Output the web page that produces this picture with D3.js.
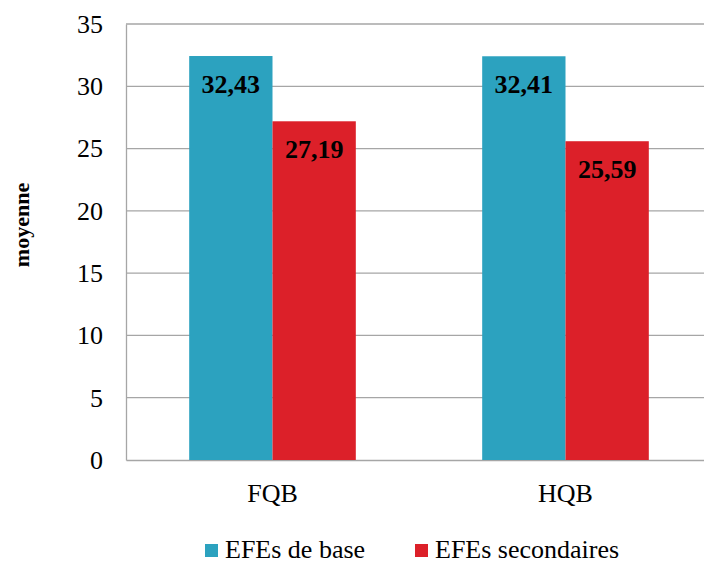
<!DOCTYPE html>
<html><head><meta charset="utf-8">
<script src="https://cdn.jsdelivr.net/npm/d3@7"></script>
<style>
body{margin:0;background:#fff;}
svg{display:block;}
svg text{font-family:"Liberation Serif","Times New Roman",Tinos,serif;}
</style>
</head><body>
<script>
const categories = ["FQB", "HQB"];
const seriesNames = ["EFEs de base", "EFEs secondaires"];
const seriesBase = [32.43, 32.41];
const seriesSecondaires = [27.19, 25.59];
const yTicks = [0, 5, 10, 15, 20, 25, 30, 35];
const colors = ["#2ca2bf", "#dc2029"];

const W = 704, H = 563;
const svg = d3.select("body").append("svg").attr("width", W).attr("height", H)
  .style("font-family", "Liberation Serif");

const x = d3.scaleBand().domain(categories).range([126, 712]);
const y = d3.scaleLinear().domain([0, 35]).range([460, 24]);
const barW = x.bandwidth() / 3.517;

// gridlines
svg.append("g").selectAll("line").data(yTicks.filter(t => t > 0)).join("line")
  .attr("x1", 126).attr("x2", 712)
  .attr("y1", d => y(d)).attr("y2", d => y(d))
  .attr("stroke", "#a6a6a6").attr("stroke-width", 1.3);

// y axis
const ya = svg.append("g").attr("transform", "translate(126,0)")
  .call(d3.axisLeft(y).tickValues(yTicks).tickSize(0).tickPadding(23));
ya.attr("font-family", null).attr("font-size", null);
ya.select(".domain").attr("stroke", "#a6a6a6").attr("stroke-width", 1.3);
ya.selectAll("text").attr("font-size", 26).attr("fill", "#000");

// x axis
const xa = svg.append("g").attr("transform", "translate(0,460)")
  .call(d3.axisBottom(x).tickSize(0).tickPadding(23.5));
xa.attr("font-family", null).attr("font-size", null);
xa.select(".domain").attr("stroke", "#a6a6a6").attr("stroke-width", 1.3);
xa.selectAll("text").attr("font-size", 26).attr("fill", "#000");

const series = [seriesBase, seriesSecondaires];
series.forEach((vals, si) => {
  const g = svg.append("g");
  const data = categories.map((c, i) => ({c, v: vals[i]}));
  g.selectAll("rect").data(data).join("rect")
    .attr("x", d => x(d.c) + x.bandwidth() / 2 - barW + si * barW)
    .attr("width", barW)
    .attr("y", d => y(d.v))
    .attr("height", d => y(0) - y(d.v))
    .attr("fill", colors[si]);
  g.selectAll("text").data(data).join("text")
    .attr("x", d => x(d.c) + x.bandwidth() / 2 - barW / 2 + si * barW)
    .attr("y", d => y(d.v) + 37)
    .attr("text-anchor", "middle")
    .attr("font-size", 26).attr("font-weight", "bold")
    .attr("fill", "#000")
    .text(d => d.v.toFixed(2).replace(".", ","));
});

// y title
svg.append("text")
  .attr("transform", "translate(29,225) rotate(-90)")
  .attr("text-anchor", "middle")
  .attr("font-size", 22).attr("font-weight", "bold")
  .text("moyenne");

// legend
const legX = [205, 415];
seriesNames.forEach((n, i) => {
  svg.append("rect").attr("x", legX[i]).attr("y", 544).attr("width", 13).attr("height", 13).attr("fill", colors[i]);
  svg.append("text").attr("x", legX[i] + 20).attr("y", 558)
    .attr("font-size", 26).attr("fill", "#000").text(n);
});
</script>
</body></html>
